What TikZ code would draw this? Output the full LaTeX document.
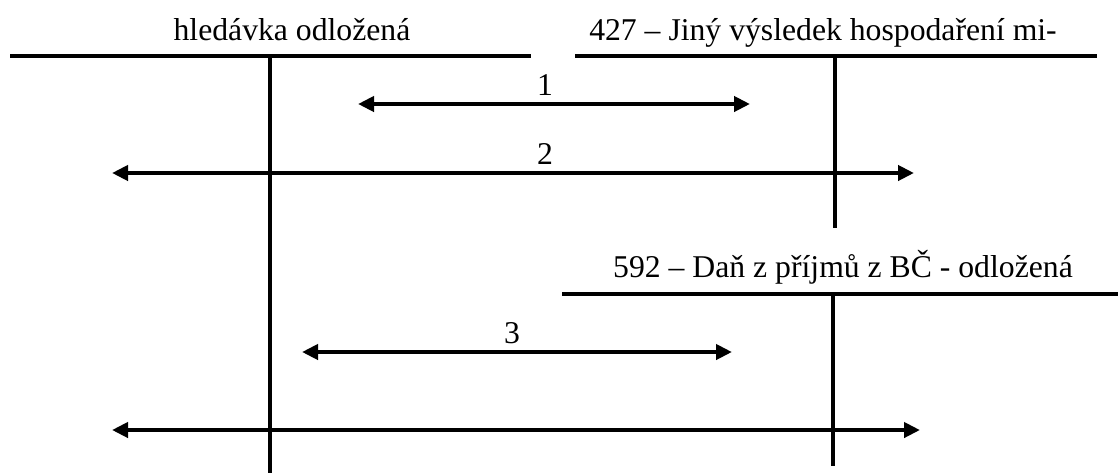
\documentclass[tikz,border=0pt]{standalone}
\usepackage{fontspec}
\setmainfont{Liberation Serif}
\usetikzlibrary{arrows.meta}
\begin{document}
\begin{tikzpicture}[x=1pt,y=-1pt,
  rule/.style={line width=4pt},
  flow/.style={line width=4pt,{Triangle[length=16pt,width=15pt]}-{Triangle[length=16pt,width=15pt]}},
  title/.style={font=\fontsize{31.7}{34}\selectfont,inner sep=0pt,anchor=base},
  num/.style={font=\fontsize{31.7}{34}\selectfont,inner sep=0pt,anchor=base}]
\useasboundingbox (0,0) rectangle (1118,475);
% account: odlozena pohledavka (left)
\node[title] (tA) at (292,40) {hledávka odložená};
\coordinate (aL) at (10,56);  \coordinate (aR) at (531,56);
\coordinate (aT) at (270,56); \coordinate (aB) at (270,473);
\draw[rule] (aL) -- (aR);
\draw[rule] (aT) -- (aB);
% account 427
\node[title] (tB) at (823,40) {427 – Jiný výsledek hospodaření mi-};
\coordinate (bL) at (575,56); \coordinate (bR) at (1097,56);
\coordinate (bT) at (835,56); \coordinate (bB) at (835,228);
\draw[rule] (bL) -- (bR);
\draw[rule] (bT) -- (bB);
% account 592
\node[title] (tC) at (843,277) {592 – Daň z příjmů z BČ - odložená};
\coordinate (cL) at (562,294); \coordinate (cR) at (1118,294);
\coordinate (cT) at (833,294); \coordinate (cB) at (833,466);
\draw[rule] (cL) -- (cR);
\draw[rule] (cT) -- (cB);
% postings
\coordinate (p1a) at (358,104); \coordinate (p1b) at (750,104);
\draw[flow] (p1a) -- (p1b);
\node[num] (n1) at (545,95) {1};
\coordinate (p2a) at (112,173); \coordinate (p2b) at (914,173);
\draw[flow] (p2a) -- (p2b);
\node[num] (n2) at (545,164) {2};
\coordinate (p3a) at (302,352); \coordinate (p3b) at (732,352);
\draw[flow] (p3a) -- (p3b);
\node[num] (n3) at (512,343) {3};
\coordinate (p4a) at (112,430); \coordinate (p4b) at (920,430);
\draw[flow] (p4a) -- (p4b);
\end{tikzpicture}
\end{document}
